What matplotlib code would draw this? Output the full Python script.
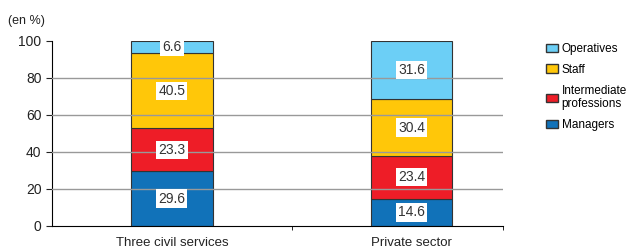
import matplotlib
matplotlib.use("Agg")
import matplotlib.pyplot as plt
from matplotlib.patches import Patch

plt.rcParams['font.family'] = ['Liberation Sans Narrow', 'Liberation Sans', 'DejaVu Sans']

categories = ['Three civil services', 'Private sector']
managers = [29.6, 14.6]
intermediate = [23.3, 23.4]
staff = [40.5, 30.4]
operatives = [6.6, 31.6]

series = [('Managers', managers, '#1172b9'),
          ('Intermediate\nprofessions', intermediate, '#ee1d27'),
          ('Staff', staff, '#ffc709'),
          ('Operatives', operatives, '#6ccff6')]

fig = plt.figure(figsize=(6.34, 2.48), dpi=100)
ax = fig.add_axes([0.082, 0.089, 0.711, 0.746])

x = range(len(categories))
bottom = [0, 0]
for name, vals, col in series:
    ax.bar(x, vals, width=0.34, bottom=bottom, color=col, edgecolor='#333333',
           linewidth=0.8, label=name, zorder=2)
    for i, v in enumerate(vals):
        ax.text(i, bottom[i] + v / 2, f'{v:.1f}', ha='center', va='center',
                fontsize=10, color='#333333', zorder=4,
                bbox=dict(facecolor='white', edgecolor='none', pad=1.5))
    bottom = [b + v for b, v in zip(bottom, vals)]

for yv in [20, 40, 60, 80]:
    ax.axhline(yv, color='#999999', linewidth=1, zorder=3)

ax.set_xlim(-0.5, 1.38)
ax.set_ylim(0, 100)
ax.set_yticks([0, 20, 40, 60, 80, 100])
ax.set_xticks([0, 1])
ax.set_xticklabels(categories)
ax.set_xticks([0.5, 1.38], minor=True)
ax.tick_params(axis='x', which='major', length=0, pad=8, labelsize=9.5, colors='#222222')
ax.tick_params(axis='x', which='minor', length=3, direction='out')
ax.tick_params(axis='y', length=4, direction='out', labelsize=10, colors='#222222')
ax.spines['top'].set_visible(False)
ax.spines['right'].set_visible(False)

fig.text(0.013, 0.905, '(en %)', fontsize=9, color='#222222')

handles = [Patch(facecolor=c, edgecolor='#333333', label=n) for n, v, c in reversed(series)]
fig.legend(handles=handles, loc='upper left', bbox_to_anchor=(0.845, 0.87),
           frameon=False, fontsize=8.5, handlelength=1.0, handleheight=0.7,
           handletextpad=0.3, labelspacing=0.75)

fig.savefig('out.png', dpi=100)
